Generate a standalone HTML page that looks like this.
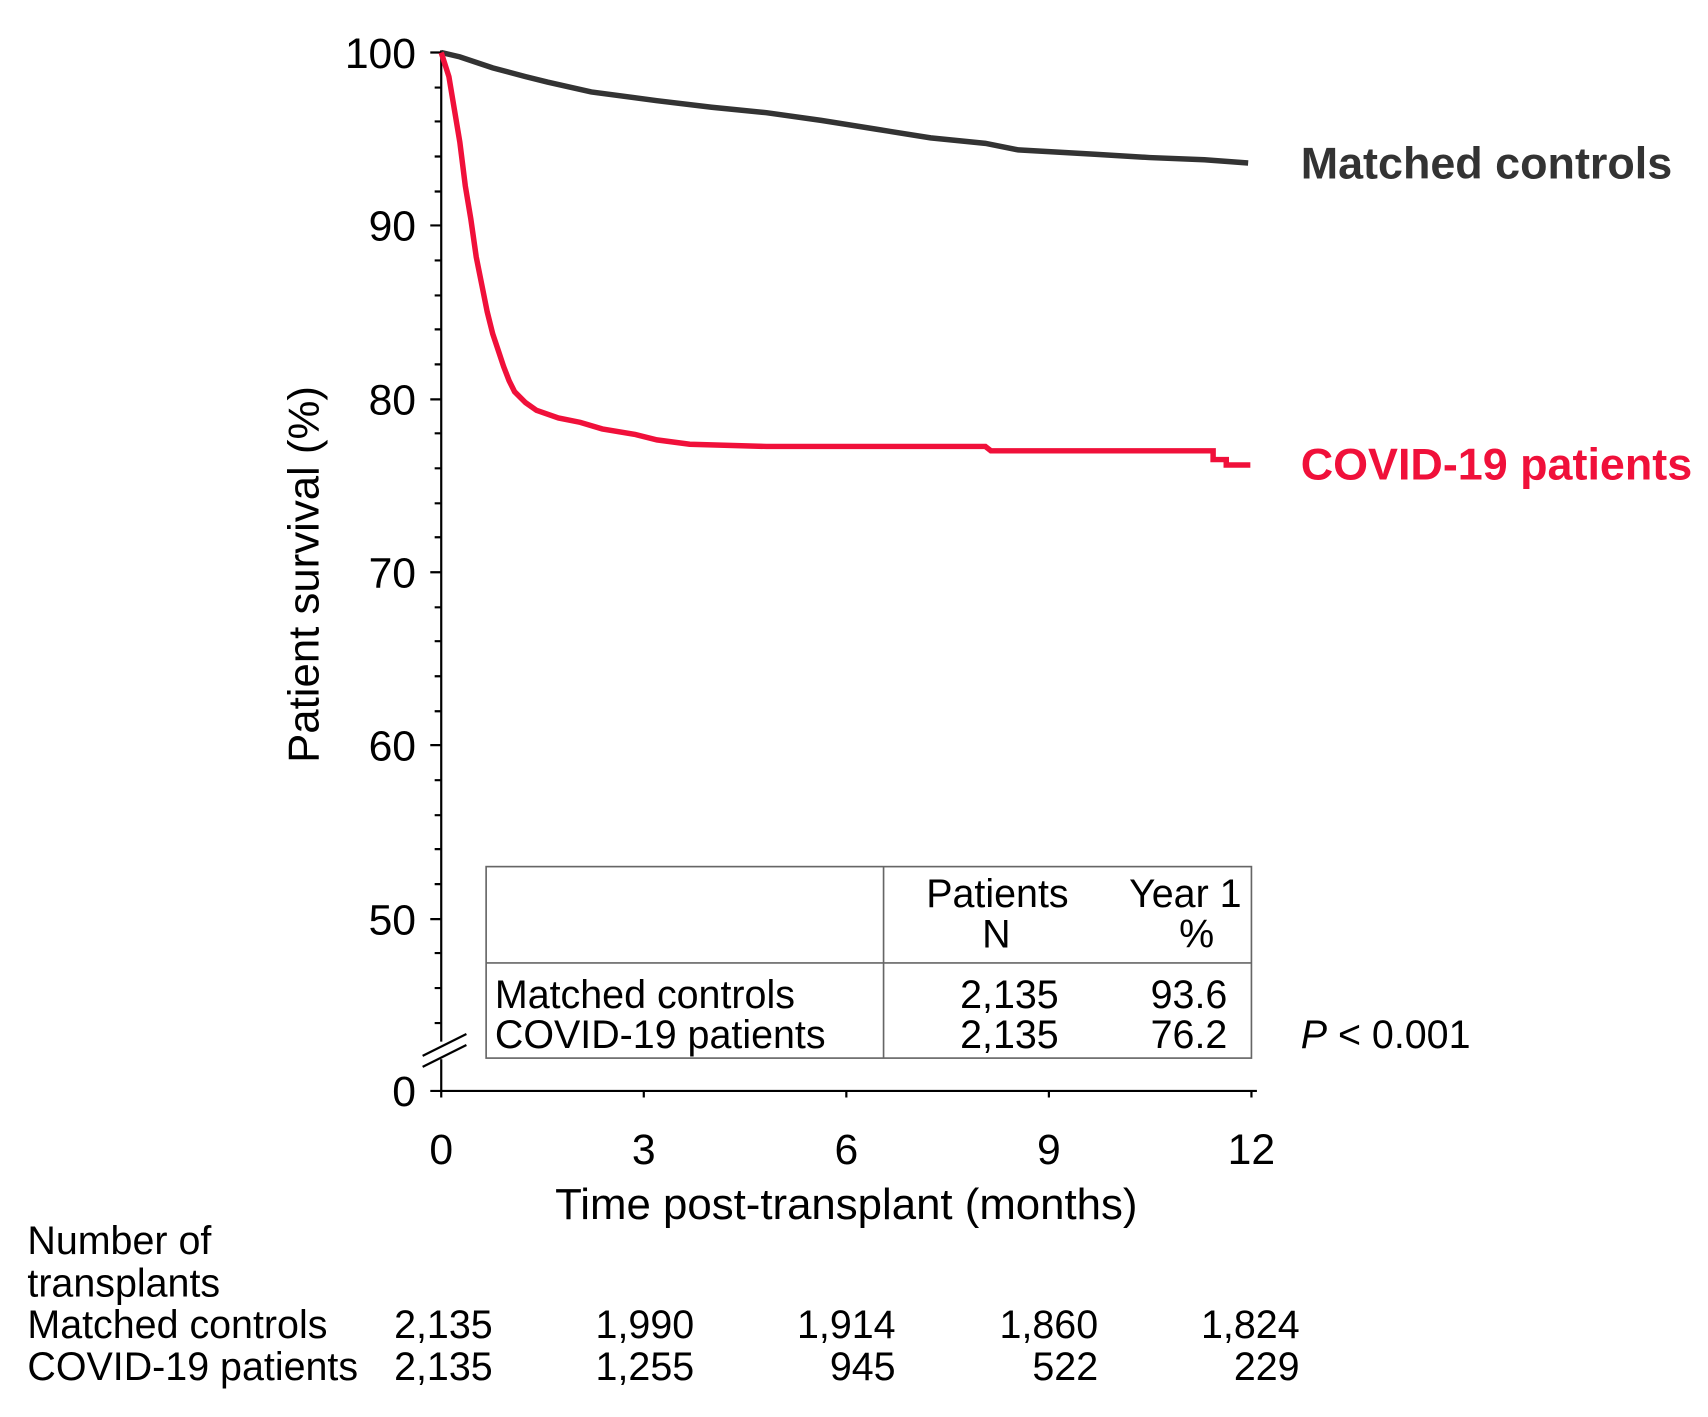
<!DOCTYPE html>
<html><head><style>html,body{margin:0;padding:0;background:#fff}svg{display:block}text{font-family:"Liberation Sans",sans-serif}</style></head>
<body>
<svg width="1708" height="1417" viewBox="0 0 1560 1295" preserveAspectRatio="none" xmlns="http://www.w3.org/2000/svg">
<g stroke="#000" stroke-width="2" fill="none">
<line x1="403" y1="46" x2="403" y2="952"/>
<line x1="403" y1="968" x2="403" y2="998"/>
<line x1="386" y1="965" x2="426" y2="945"/>
<line x1="386" y1="975" x2="426" y2="955"/>
<line x1="403" y1="997" x2="1148" y2="997"/>
<path d="M403,997v6M588,997v6M773,997v6M958,997v6M1143,997v6"/>
<path d="M393,48h10M393,206h10M393,365h10M393,523h10M393,681h10M393,840h10M393,997h10"/>
<path d="M397,80h6M397,111h6M397,143h6M397,175h6M397,238h6M397,270h6M397,301h6M397,333h6M397,396h6M397,428h6M397,460h6M397,491h6M397,555h6M397,586h6M397,618h6M397,650h6M397,713h6M397,745h6M397,776h6M397,808h6M397,871h6M397,903h6M397,935h6"/>
</g>
<g font-size="39" fill="#000">
<text x="380" y="62" text-anchor="end">100</text>
<text x="380" y="220" text-anchor="end">90</text>
<text x="380" y="379" text-anchor="end">80</text>
<text x="380" y="537" text-anchor="end">70</text>
<text x="380" y="695" text-anchor="end">60</text>
<text x="380" y="854" text-anchor="end">50</text>
<text x="380" y="1011" text-anchor="end">0</text>
<text x="403" y="1064" text-anchor="middle">0</text>
<text x="588" y="1064" text-anchor="middle">3</text>
<text x="773" y="1064" text-anchor="middle">6</text>
<text x="958" y="1064" text-anchor="middle">9</text>
<text x="1143" y="1064" text-anchor="middle">12</text>
<text x="773" y="1114" text-anchor="middle" font-size="40">Time post-transplant (months)</text>
<text transform="translate(291,525) rotate(-90)" text-anchor="middle" font-size="40">Patient survival (%)</text>
</g>
<polyline fill="none" stroke="#333" stroke-width="5" points="403,48 420,52 450,62 480,70 500,75 540,84 600,92 650,98 700,103 750,110 800,118 850,126 900,131 930,137 1000,141 1050,144 1100,146 1140,149"/>
<polyline fill="none" stroke="#f0103a" stroke-width="5" points="403,48 410,70 415,100 420,130 425,170 430,200 435,235 440,260 445,285 450,305 455,320 460,335 465,348 470,358 480,368 490,375 510,382 530,386 550,392 580,397 600,402 630,406 700,408 900,408 905,412 1108,412 1108,420 1120,420 1120,425 1142,425"/>
<text x="1188" y="163" font-size="41" font-weight="bold" fill="#333">Matched controls</text>
<text x="1188" y="438" font-size="41" font-weight="bold" fill="#f0103a">COVID-19 patients</text>
<rect x="444" y="792" width="699" height="175" fill="#fff" stroke="#666" stroke-width="1.5"/>
<line x1="807" y1="792" x2="807" y2="967" stroke="#666" stroke-width="1.5"/>
<line x1="444" y1="880" x2="1143" y2="880" stroke="#666" stroke-width="1.5"/>
<g font-size="36" fill="#000">
<text x="911" y="829" text-anchor="middle">Patients</text>
<text x="910" y="866" text-anchor="middle">N</text>
<text x="1134" y="829" text-anchor="end">Year 1</text>
<text x="1109" y="866" text-anchor="end">%</text>
<text x="452" y="921">Matched controls</text>
<text x="452" y="958">COVID-19 patients</text>
<text x="967" y="921" text-anchor="end">2,135</text>
<text x="967" y="958" text-anchor="end">2,135</text>
<text x="1121" y="921" text-anchor="end">93.6</text>
<text x="1121" y="958" text-anchor="end">76.2</text>
<text x="1188" y="958"><tspan font-style="italic">P</tspan> &lt; 0.001</text>
<text x="25" y="1146">Number of</text>
<text x="25" y="1185">transplants</text>
<text x="25" y="1223">Matched controls</text>
<text x="25" y="1261">COVID-19 patients</text>
<g text-anchor="end">
<text x="450" y="1223">2,135</text><text x="634" y="1223">1,990</text><text x="818" y="1223">1,914</text><text x="1003" y="1223">1,860</text><text x="1187" y="1223">1,824</text>
<text x="450" y="1261">2,135</text><text x="634" y="1261">1,255</text><text x="818" y="1261">945</text><text x="1003" y="1261">522</text><text x="1187" y="1261">229</text>
</g>
</g>
</svg>
</body></html>
